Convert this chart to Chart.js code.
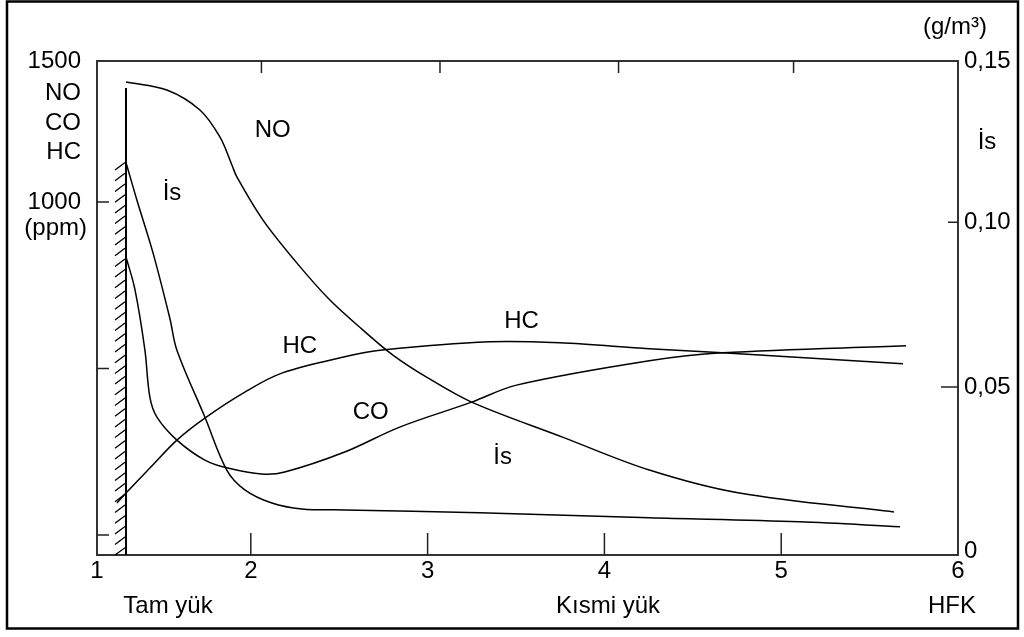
<!DOCTYPE html>
<html>
<head>
<meta charset="utf-8">
<script src="https://cdn.jsdelivr.net/npm/chart.js@4"></script>
<style>
  body { margin: 0; background: #fff; }
</style>
</head>
<body>
<canvas id="chart" width="1024" height="637"></canvas>
<script>
// Curves; x = load factor, NO/CO/HC in ppm, soot (İs) in g/m³
const noX = [1.294, 1.525, 1.712, 1.825, 1.893, 1.921, 2.068, 2.260, 2.446, 2.633, 2.802, 2.994, 3.249, 3.763, 4.254, 4.763, 5.638];
const noY = [1360, 1336, 1276, 1195, 1111, 1075, 946, 817, 706, 616, 541, 474, 399, 294, 195, 126, 69];

const coX = [1.294, 1.345, 1.401, 1.429, 1.469, 1.582, 1.740, 1.870, 2.062, 2.192, 2.531, 2.842, 3.249, 3.503, 4.254, 4.667, 5.706];
const coY = [835, 736, 555, 414, 354, 285, 225, 201, 183, 189, 249, 324, 399, 450, 523, 547, 568];

const hcX = [1.243, 1.294, 1.429, 1.582, 1.740, 1.966, 2.175, 2.531, 2.757, 3.350, 3.746, 4.254, 4.667, 5.689];
const hcY = [96, 126, 201, 285, 351, 429, 486, 535, 556, 580, 577, 559, 547, 514];

const sootX = [1.294, 1.356, 1.446, 1.542, 1.582, 1.740, 1.864, 1.966, 2.119, 2.288, 2.531, 3.294, 4.254, 5.102, 5.672];
const sootY = [0.1182, 0.1067, 0.0909, 0.0709, 0.0612, 0.0409, 0.0248, 0.0188, 0.0148, 0.0130, 0.0127, 0.0118, 0.0103, 0.0091, 0.0076];

// full-load limit wall
const wallX = [1.294, 1.294];
const wallY = [1342, -60];
const hatchTopY = 1118;

// axes
const xMin = 1.13, xMax = 6;
const xTicks = [2, 3, 4, 5, 6];
const xTopTicks = [2.06, 3.07, 4.08, 5.07];
const ppmMin = -60, ppmMax = 1423;
const ppmTicks = [0, 500, 1000];
const ppmLabels = { 1000: '1000' };
const sootMin = -0.001, sootMax = 0.149;
const sootTicks = [0, 0.05, 0.10];
const sootLabels = ['0', '0,05', '0,10', '0,15'];

// curve labels [text, x, ppm]
const curveLabels = [
  ['NO', 2.124, 1216],
  ['İs', 1.554, 1027],
  ['HC', 2.277, 565],
  ['HC', 3.531, 640],
  ['CO', 2.678, 369],
  ['İs', 3.424, 234]
];

const FONT = '24px "Liberation Sans", Arial, sans-serif';
const pts = (xs, ys) => xs.map((x, i) => ({ x: x, y: ys[i] }));

const lineStyle = {
  borderColor: '#000',
  borderWidth: 1.5,
  pointRadius: 0,
  fill: false,
  tension: 0.35
};

const decor = {
  id: 'decor',
  afterDatasetsDraw(chart) {
    const ctx = chart.ctx;
    const x = chart.scales.x, yl = chart.scales.y, yr = chart.scales.y2;
    const a = chart.chartArea;
    ctx.save();
    ctx.strokeStyle = '#222';
    ctx.lineWidth = 1.5;
    ctx.beginPath();
    // inward ticks
    xTicks.slice(0, 4).forEach(v => {
      const px = x.getPixelForValue(v);
      ctx.moveTo(px, a.bottom); ctx.lineTo(px, a.bottom - 22);
    });
    xTopTicks.forEach(v => {
      const px = x.getPixelForValue(v);
      ctx.moveTo(px, a.top); ctx.lineTo(px, a.top + 12);
    });
    ppmTicks.forEach(v => {
      const py = yl.getPixelForValue(v);
      ctx.moveTo(a.left, py); ctx.lineTo(a.left + 12, py);
    });
    sootTicks.slice(1).forEach((v, i) => {
      const py = yr.getPixelForValue(v);
      ctx.moveTo(a.right, py); ctx.lineTo(a.right - (i === 0 ? 17 : 10), py);
    });
    ctx.stroke();

    // hatching left of the wall
    const wx = x.getPixelForValue(wallX[0]);
    ctx.strokeStyle = '#000';
    ctx.lineWidth = 1.3;
    ctx.beginPath();
    for (let py = yl.getPixelForValue(hatchTopY); py < a.bottom; py += 10.7) {
      ctx.moveTo(wx - 1, py);
      ctx.lineTo(wx - 11, Math.min(py + 7.5, a.bottom));
    }
    ctx.stroke();

    // texts
    ctx.fillStyle = '#000';
    ctx.font = FONT;
    ctx.textBaseline = 'middle';
    ctx.textAlign = 'center';
    curveLabels.forEach(([t, vx, vy]) => {
      ctx.fillText(t, x.getPixelForValue(vx), yl.getPixelForValue(vy));
    });
    ctx.textAlign = 'right';
    ctx.fillText('NO', a.left - 16, a.top + 32);
    ctx.fillText('CO', a.left - 16, a.top + 62);
    ctx.fillText('HC', a.left - 16, a.top + 91);
    ctx.fillText('(ppm)', a.left - 10, yl.getPixelForValue(1000) + 26);
    ctx.textAlign = 'center';
    ctx.fillText('(g/m³)', a.right - 3, 27);
    ctx.fillText('İs', a.right + 29, a.top + 81);
    ctx.fillText('Tam yük', 168, 606);
    ctx.fillText('Kısmi yük', 608, 606);
    ctx.fillText('HFK', 952, 606);

    // outer frame
    ctx.strokeStyle = '#000';
    ctx.lineWidth = 2.5;
    ctx.strokeRect(7, 1.5, 1011, 627);
    ctx.restore();
  }
};

const tickFont = { family: '"Liberation Sans", Arial, sans-serif', size: 24 };

new Chart(document.getElementById('chart'), {
  type: 'line',
  data: {
    datasets: [
      { label: 'NO', data: pts(noX, noY), yAxisID: 'y', ...lineStyle },
      { label: 'CO', data: pts(coX, coY), yAxisID: 'y', ...lineStyle },
      { label: 'HC', data: pts(hcX, hcY), yAxisID: 'y', ...lineStyle },
      { label: 'İs', data: pts(sootX, sootY), yAxisID: 'y2', ...lineStyle },
      { label: 'wall', data: pts(wallX, wallY), yAxisID: 'y', ...lineStyle, tension: 0, borderWidth: 2 }
    ]
  },
  options: {
    responsive: false,
    animation: false,
    devicePixelRatio: 1,
    layout: { padding: 0 },
    plugins: { legend: { display: false }, tooltip: { enabled: false } },
    scales: {
      x: {
        type: 'linear', position: 'bottom', min: xMin, max: xMax,
        afterFit: s => { s.height = 82; },
        afterBuildTicks: s => { s.ticks = [{ value: xMin }].concat(xTicks.map(v => ({ value: v }))); },
        grid: { display: false, drawTicks: false },
        border: { color: '#333', width: 2 },
        ticks: { color: '#000', font: tickFont, padding: 2, maxRotation: 0,
          callback: v => (v < 1.5 ? '1' : String(v)) }
      },
      xTop: {
        type: 'linear', position: 'top', min: xMin, max: xMax,
        afterFit: s => { s.height = 61; },
        grid: { display: false, drawTicks: false },
        border: { color: '#333', width: 2 },
        ticks: { display: false }
      },
      y: {
        type: 'linear', position: 'left', min: ppmMin, max: ppmMax,
        afterFit: s => { s.width = 97; },
        afterBuildTicks: s => { s.ticks = [{ value: 1000 }, { value: ppmMax }]; },
        grid: { display: false, drawTicks: false },
        border: { color: '#333', width: 2 },
        ticks: { color: '#000', font: tickFont, padding: 16,
          callback: v => (v === ppmMax ? '1500' : (ppmLabels[v] || '')) }
      },
      y2: {
        type: 'linear', position: 'right', min: sootMin, max: sootMax,
        afterFit: s => { s.width = 66; },
        afterBuildTicks: s => { s.ticks = sootTicks.concat([sootMax]).map(v => ({ value: v })); },
        grid: { display: false, drawTicks: false },
        border: { color: '#333', width: 2 },
        ticks: { color: '#000', font: tickFont, padding: 6,
          callback: (v, i) => sootLabels[i] }
      }
    }
  },
  plugins: [decor]
});
</script>
</body>
</html>
